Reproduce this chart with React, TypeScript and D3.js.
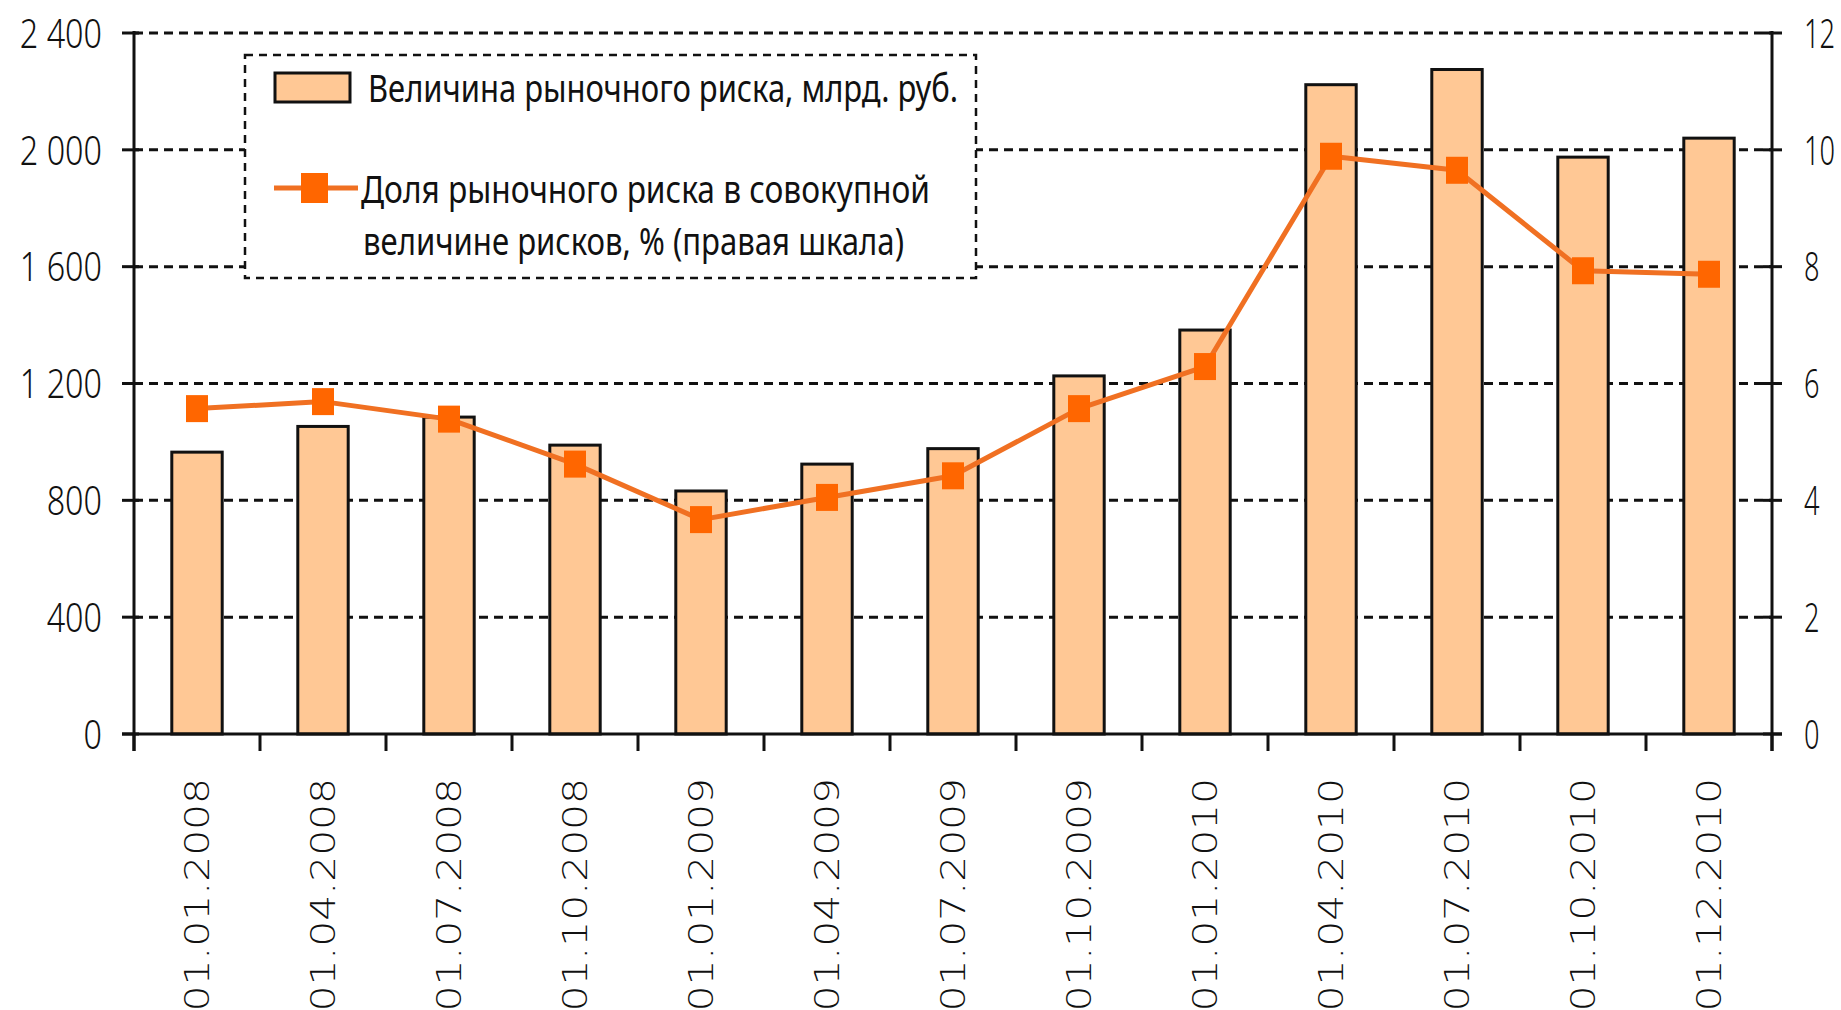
import React, { useEffect, useRef } from 'react';
import * as d3 from 'd3';

const dates = [
  '01.01.2008', '01.04.2008', '01.07.2008', '01.10.2008',
  '01.01.2009', '01.04.2009', '01.07.2009', '01.10.2009',
  '01.01.2010', '01.04.2010', '01.07.2010', '01.10.2010', '01.12.2010',
];
// Величина рыночного риска, млрд. руб.
const riskValue = [965, 1053, 1085, 989, 832, 924, 977, 1226, 1383, 2223, 2275, 1975, 2040];
// Доля рыночного риска, %
const riskShare = [5.57, 5.69, 5.39, 4.62, 3.67, 4.05, 4.42, 5.57, 6.29, 9.89, 9.65, 7.93, 7.87];
const leftTicks = [0, 400, 800, 1200, 1600, 2000, 2400];
const rightTicks = [0, 2, 4, 6, 8, 10, 12];
const legendLines = [
  'Величина рыночного риска, млрд. руб.',
  'Доля рыночного риска в совокупной',
  'величине рисков, % (правая шкала)',
];

const fmtLeft = (v: number) => (v >= 1000 ? `${Math.floor(v / 1000)} ${String(v % 1000).padStart(3, '0')}` : String(v));

const App: React.FC = () => {
  const svgRef = useRef<SVGSVGElement>(null);

  useEffect(() => {
    document.body.style.margin = '0';
    if (!svgRef.current) return;
    const width = 1841;
    const height = 1010;
    const svg = d3.select(svgRef.current);
    svg.selectAll('*').remove();
    svg.attr('width', width).attr('height', height);

    const x0 = 134, x1 = 1772, yTop = 33, yBase = 734;
    const stretch = 1.2; // source picture is stretched vertically

    const x = d3.scaleBand<string>().domain(dates).range([x0, x1]).paddingInner(0.6).paddingOuter(0.3);
    const y = d3.scaleLinear().domain([0, 2400]).range([yBase, yTop]);
    const y2 = d3.scaleLinear().domain([0, 12]).range([yBase, yTop]);
    const step = x.step();
    const cx = (d: string) => (x(d) || 0) + x.bandwidth() / 2;

    svg.append('rect').attr('width', width).attr('height', height).attr('fill', '#fff');

    // gridlines
    svg.append('g').selectAll('line').data(leftTicks.filter(t => t > 0)).enter().append('line')
      .attr('x1', x0).attr('x2', x1)
      .attr('y1', d => y(d)).attr('y2', d => y(d))
      .attr('stroke', '#111').attr('stroke-width', 3).attr('stroke-dasharray', '9 6');

    // legend box (white, covers gridlines)
    const lg = svg.append('g');
    lg.append('rect').attr('x', 245).attr('y', 55).attr('width', 731).attr('height', 223)
      .attr('fill', '#fff').attr('stroke', '#111').attr('stroke-width', 2.5).attr('stroke-dasharray', '8 6');
    lg.append('rect').attr('x', 275).attr('y', 73).attr('width', 75).attr('height', 29)
      .attr('fill', '#FFC895').attr('stroke', '#111').attr('stroke-width', 3);
    lg.append('line').attr('x1', 274).attr('x2', 358).attr('y1', 188).attr('y2', 188)
      .attr('stroke', '#F07022').attr('stroke-width', 5);
    lg.append('rect').attr('x', 301).attr('y', 173).attr('width', 27).attr('height', 30).attr('fill', '#FF6600');
    const legendPos = [
      { x: 368, y: 102, w: 590 },
      { x: 361, y: 203, w: 569 },
      { x: 363, y: 255, w: 541 },
    ];
    legendLines.forEach((t, i) => {
      const p = legendPos[i];
      lg.append('text')
        .attr('transform', `translate(${p.x},${p.y}) scale(1,${stretch})`)
        .attr('textLength', p.w).attr('lengthAdjust', 'spacingAndGlyphs')
        .style('font-family', '"Noto Sans", sans-serif').style('font-size', '32px').attr('fill', '#111')
        .text(t);
    });

    // bars
    svg.append('g').selectAll('rect').data(dates).enter().append('rect')
      .attr('x', d => x(d) || 0).attr('width', x.bandwidth())
      .attr('y', (d, i) => y(riskValue[i])).attr('height', (d, i) => yBase - y(riskValue[i]))
      .attr('fill', '#FFC895').attr('stroke', '#111').attr('stroke-width', 3);

    // axes
    const ax = svg.append('g').attr('stroke', '#111').attr('stroke-width', 3);
    ax.append('line').attr('x1', x0).attr('x2', x0).attr('y1', yTop - 2).attr('y2', yBase + 17);
    ax.append('line').attr('x1', x1).attr('x2', x1).attr('y1', yTop - 2).attr('y2', yBase + 17);
    ax.append('line').attr('x1', x0 - 12).attr('x2', x1 + 10).attr('y1', yBase).attr('y2', yBase);
    ax.selectAll('.lt').data(leftTicks).enter().append('line')
      .attr('x1', x0 - 12).attr('x2', x0 + 5).attr('y1', d => y(d)).attr('y2', d => y(d));
    ax.selectAll('.rt').data(rightTicks).enter().append('line')
      .attr('x1', x1 - 9).attr('x2', x1 + 10).attr('y1', d => y2(d)).attr('y2', d => y2(d));
    ax.selectAll('.xt').data(d3.range(dates.length + 1)).enter().append('line')
      .attr('x1', d => x0 + d * step).attr('x2', d => x0 + d * step)
      .attr('y1', yBase).attr('y2', yBase + 17);

    // tick labels
    const lab = svg.append('g').style('font-family', '"Noto Sans", sans-serif').style('font-size', '34px')
      .style('font-weight', 300).attr('fill', '#111');
    lab.selectAll('.ll').data(leftTicks).enter().append('text')
      .attr('transform', d => `translate(102,${y(d)}) scale(0.95,${stretch})`)
      .attr('text-anchor', 'end').attr('dy', '0.36em').text(d => fmtLeft(d));
    lab.selectAll('.rl').data(rightTicks).enter().append('text')
      .attr('transform', d => `translate(1804,${y2(d)}) scale(0.8,${stretch})`)
      .attr('dy', '0.36em').text(d => String(d));

    svg.append('g').style('font-family', '"DejaVu Sans", sans-serif').style('font-size', '34px')
      .style('font-weight', 200).attr('fill', '#111')
      .selectAll('text').data(dates).enter().append('text')
      .attr('transform', d => `translate(${cx(d)},778) scale(1,${stretch}) rotate(-90)`)
      .attr('text-anchor', 'end').attr('dy', '0.36em')
      .text(d => d);

    // share line
    const line = d3.line<number>().x((v, i) => cx(dates[i])).y(v => y2(v));
    svg.append('path').attr('d', line(riskShare) || '')
      .attr('fill', 'none').attr('stroke', '#F07022').attr('stroke-width', 5).attr('stroke-linejoin', 'round');
    svg.append('g').selectAll('rect').data(riskShare).enter().append('rect')
      .attr('x', (v, i) => cx(dates[i]) - 11).attr('y', v => y2(v) - 13.5)
      .attr('width', 22).attr('height', 27).attr('fill', '#FF6600');
  }, []);

  return <svg ref={svgRef} style={{ display: 'block' }} />;
};

export default App;
